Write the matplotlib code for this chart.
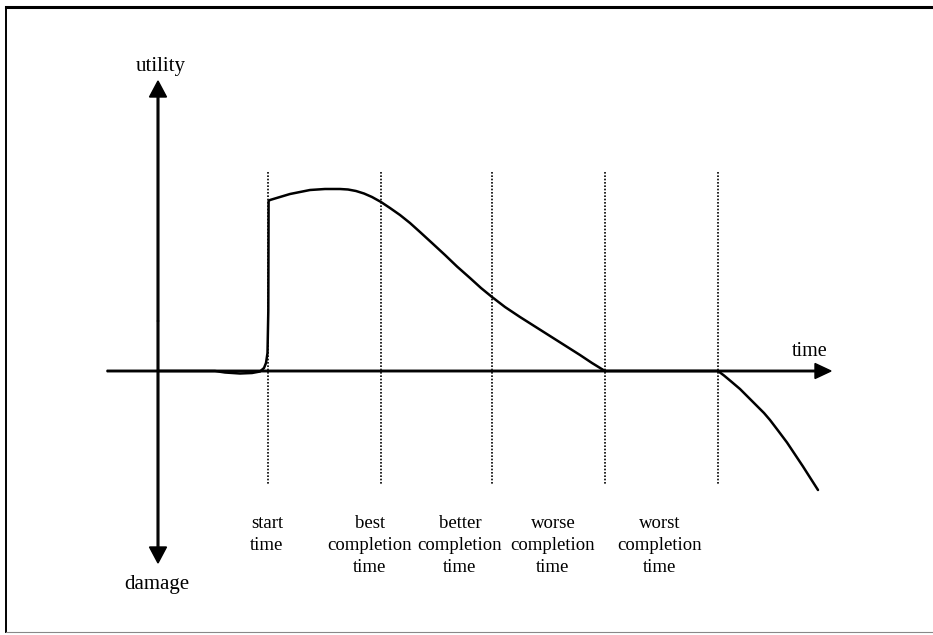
import matplotlib
matplotlib.use("Agg")
import matplotlib.pyplot as plt
from matplotlib.lines import Line2D

# event times on the time axis and their labels
event_times = [268, 381, 492, 605, 718]
event_labels = ["start\ntime", "best\ncompletion\ntime", "better\ncompletion\ntime",
                "worse\ncompletion\ntime", "worst\ncompletion\ntime"]
label_x = [267, 370, 460, 553, 660]

# utility curve (time, utility)
curve_t = [158, 215, 225, 240, 252, 260, 264, 266, 267.5, 268.3, 268.6, 270, 280, 290,
           300, 310, 325, 340, 348, 356, 364, 372, 381, 390, 400, 410, 420, 432,
           445, 457, 470, 481, 492, 505, 520, 535, 550, 565, 580, 592, 605,
           718, 724, 730, 740, 748, 757, 764, 770, 778, 787, 795, 803, 810, 818]
curve_u = [0, 0, -1.5, -2.5, -2, -0.5, 3, 8, 18, 60, 170, 171, 174, 177,
           179, 181, 182, 182, 181.5, 180, 177.5, 174, 169, 163, 156, 148, 139, 128,
           116, 104.5, 93, 83, 74, 64, 54, 44.5, 35, 25.5, 16, 8, 0,
           0, -4.5, -9.5, -18, -26, -35, -42, -49, -59.5, -71.5, -83.5, -95.5, -106.5, -119]

fig = plt.figure(figsize=(9.33, 6.35), dpi=100)
ax = fig.add_axes([0, 0, 1, 1])
ax.set_xlim(0, 933)
ax.set_ylim(-264, 371)
ax.axis("off")

font = dict(family="Liberation Serif", color="black")

# frame of the scanned figure
fig.add_artist(Line2D([0.006, 1], [0.989, 0.989], transform=fig.transFigure, color="black", lw=2.2))
fig.add_artist(Line2D([0.006, 0.006], [0.989, 0.005], transform=fig.transFigure, color="black", lw=1.4))
fig.add_artist(Line2D([0.006, 1], [0.005, 0.005], transform=fig.transFigure, color="#888888", lw=0.8))

# axes arrows
ax.arrow(107, 0, 724, 0, width=1.5, head_width=15, head_length=16,
         length_includes_head=True, color="black")
ax.arrow(158, 50, 0, 240, width=1.7, head_width=17, head_length=16,
         length_includes_head=True, color="black")
ax.arrow(158, 50, 0, -242, width=1.7, head_width=17, head_length=16,
         length_includes_head=True, color="black")
ax.text(161, 304, "utility", ha="center", va="center", fontsize=15, **font)
ax.text(157, -214, "damage", ha="center", va="center", fontsize=15, **font)
ax.text(810, 19, "time", ha="center", va="center", fontsize=14.5, **font)

# dotted event lines
for t in event_times:
    ax.plot([t, t], [199, -114], color="black", lw=1.2, linestyle=(0, (1, 1.0)))

ax.plot(curve_t, curve_u, color="black", lw=1.8, solid_capstyle="round",
        solid_joinstyle="round")

for x, lab in zip(label_x, event_labels):
    ax.text(x, -144, lab, ha="center", va="top", fontsize=13.5, linespacing=1.38, **font)

fig.savefig("out.png", dpi=100)
